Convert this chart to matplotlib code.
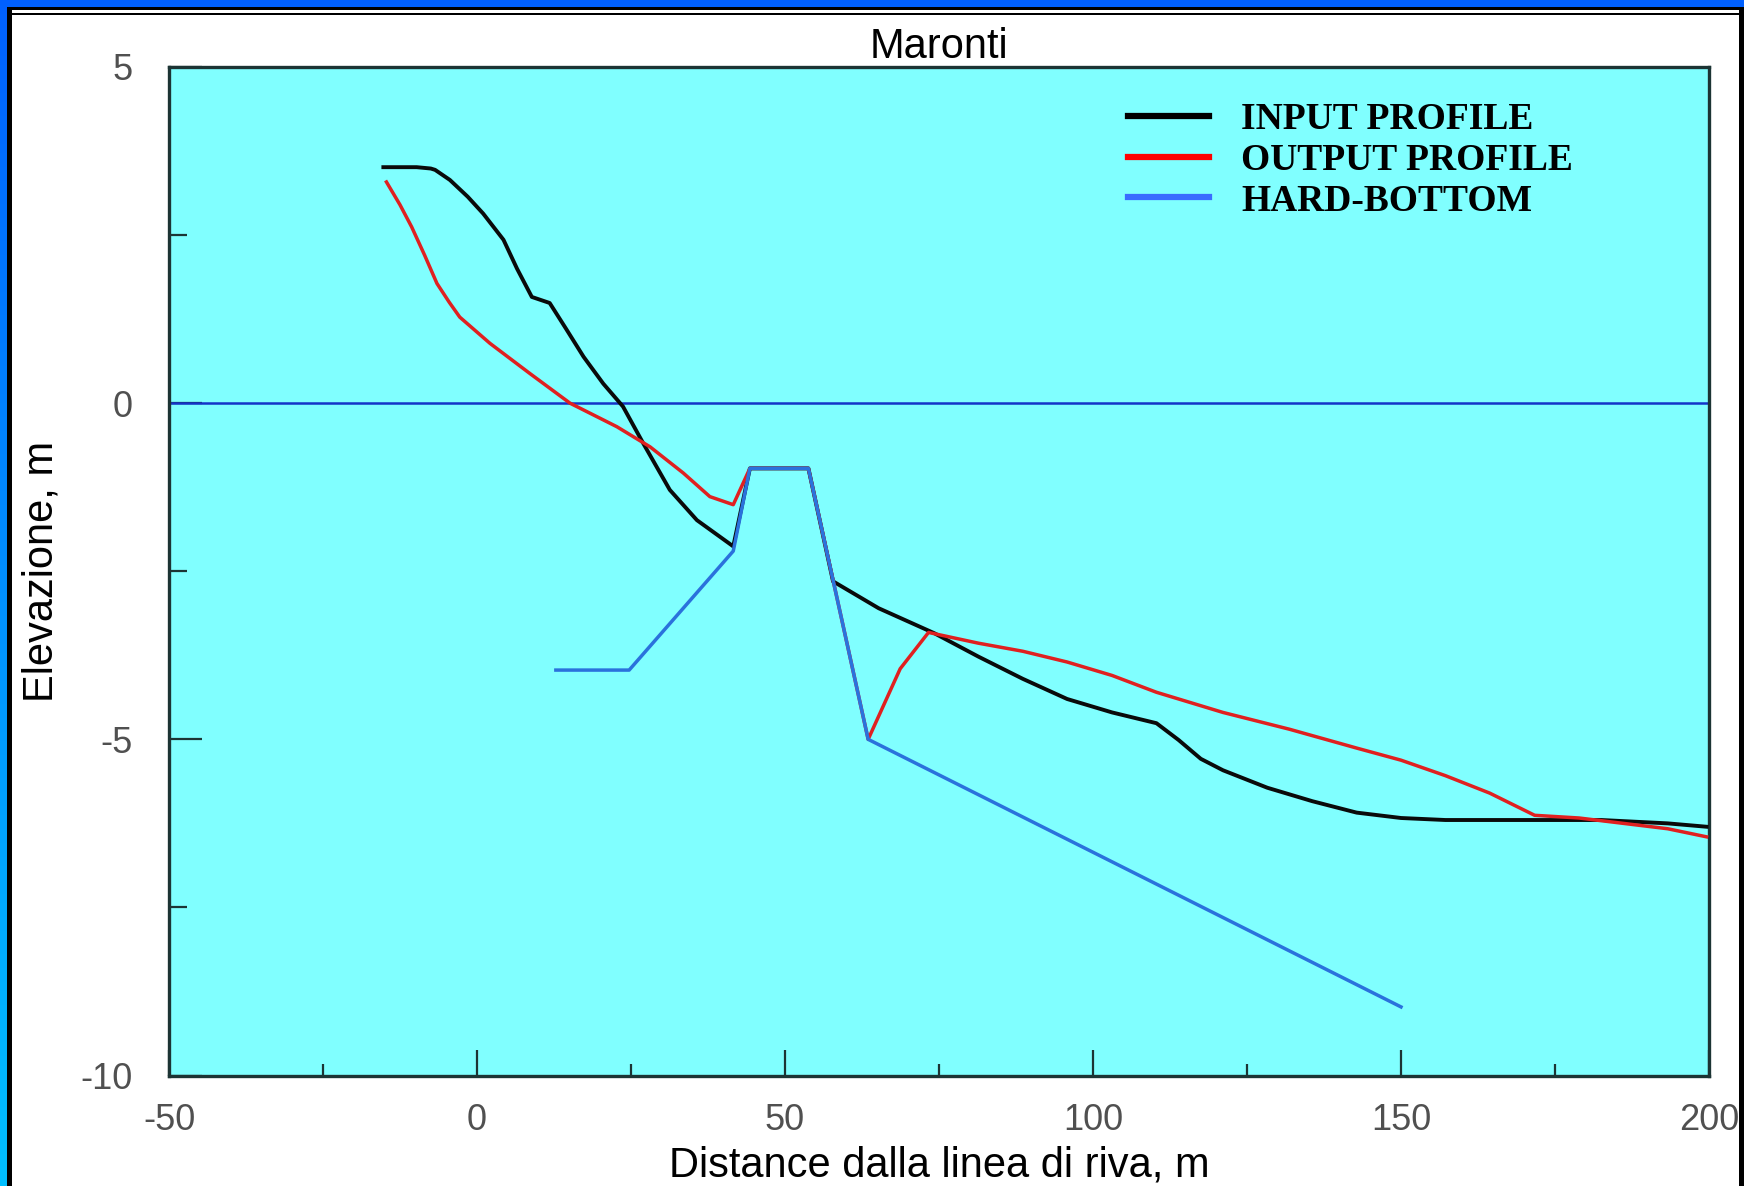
import numpy as np
import matplotlib
matplotlib.use("Agg")
import matplotlib.pyplot as plt
from matplotlib.patches import Rectangle
from matplotlib.lines import Line2D

# ---- data ----
inp_x = [-15.2, -9.8, -7.5, -6.8, -4.4, -1.5, 1.0, 4.3, 6.5, 8.9, 11.8, 14.5, 17.3, 20.5,
         23.7, 27.0, 31.3, 35.7, 41.6, 44.3, 53.8, 57.8, 65.2, 74.2, 81.4, 88.6, 95.8,
         103.1, 110.3, 113.9, 117.5, 121.1, 128.3, 135.6, 142.8, 150.0, 157.2, 171.7,
         182.5, 193.3, 199.6]
inp_y = [3.51, 3.51, 3.49, 3.47, 3.32, 3.07, 2.82, 2.43, 2.0, 1.58, 1.49, 1.1, 0.69, 0.29,
         -0.05, -0.6, -1.29, -1.74, -2.13, -0.97, -0.97, -2.65, -3.05, -3.42, -3.77, -4.1,
         -4.4, -4.6, -4.76, -5.01, -5.29, -5.46, -5.72, -5.92, -6.09, -6.17, -6.2, -6.2,
         -6.2, -6.25, -6.3]

out_x = [-14.7, -12.5, -10.6, -8.5, -6.5, -4.5, -2.8, 2.1, 8.6, 15.1, 22.7, 28.1, 33.5,
         37.8, 41.6, 44.3, 53.8, 63.5, 68.7, 73.3, 81.4, 88.6, 95.8, 103.1, 110.3, 121.1,
         131.9, 142.8, 150.0, 157.2, 164.4, 171.7, 178.9, 186.1, 193.3, 199.6]
out_y = [3.29, 2.95, 2.62, 2.2, 1.78, 1.5, 1.28, 0.89, 0.44, 0.0, -0.35, -0.65, -1.04,
         -1.39, -1.51, -0.97, -0.97, -5.0, -3.95, -3.41, -3.57, -3.69, -3.85, -4.05, -4.3,
         -4.6, -4.85, -5.13, -5.31, -5.54, -5.8, -6.13, -6.17, -6.25, -6.33, -6.45]

hard_x = [12.8, 24.7, 41.6, 44.3, 53.8, 63.5, 150.0]
hard_y = [-3.97, -3.97, -2.2, -0.97, -0.97, -5.0, -8.98]

labels = ["INPUT PROFILE", "OUTPUT PROFILE", "HARD-BOTTOM"]
title = "Maronti"
xlabel = "Distance dalla linea di riva, m"
ylabel = "Elevazione, m"
xticks = [-50, 0, 50, 100, 150, 200]
yticks = [-10, -5, 0, 5]

W, H = 1744, 1186
fig = plt.figure(figsize=(W / 100, H / 100), dpi=100)
fig.patch.set_facecolor("white")

# ---- frame / border ----
bg = fig.add_axes([0, 0, 1, 1], zorder=-5)
bg.set_axis_off()
grad = np.linspace(0, 1, 256).reshape(-1, 1)
top_c = np.array([0.0, 0.38, 1.0])
bot_c = np.array([0.0, 0.75, 1.0])
img = top_c[None, None, :] * (1 - grad[:, :, None]) + bot_c[None, None, :] * grad[:, :, None]
bg.imshow(img, extent=[0, 1, 0, 1], aspect="auto", origin="upper")
bg.set_xlim(0, 1)
bg.set_ylim(0, 1)
bg.add_patch(Rectangle((7 / W, 0), 1 - 7 / W, 1 - 7 / H, facecolor="black", edgecolor="none"))
bg.add_patch(Rectangle((12 / W, 0), (W - 17) / W, 1 - 10 / H, facecolor="white", edgecolor="none"))
bg.add_patch(Rectangle((12 / W, 1 - 14.5 / H), (W - 17) / W, 1.5 / H, facecolor="black", edgecolor="none"))

# ---- main axes ----
ax = fig.add_axes([169 / W, 1 - 1075.5 / H, 1540 / W, 1008.5 / H])
ax.set_facecolor("#80ffff")
ax.set_xlim(-50, 200)
ax.set_ylim(-10, 5)

ax.axhline(0, color="#1434c8", lw=1.8, zorder=2)
ax.plot(inp_x, inp_y, color="#0a0a0a", lw=2.8, zorder=3)
ax.plot(out_x, out_y, color="#e02020", lw=2.5, zorder=4)
ax.plot(hard_x, hard_y, color="#2a72dc", lw=2.5, zorder=5)

for s in ax.spines.values():
    s.set_color("#1c3434")
    s.set_linewidth(2.4)

tick_font = dict(family=["Liberation Sans", "DejaVu Sans"], size=26)
ax.set_xticks(xticks)
ax.set_xticks([-25, 25, 75, 125, 175], minor=True)
ax.set_yticks(yticks)
ax.set_yticks([-7.5, -2.5, 2.5], minor=True)
ax.set_xticklabels([str(v) for v in xticks], color="#505050", **tick_font)
ax.set_yticklabels([str(v) for v in yticks], color="#505050", **tick_font)
ax.tick_params(axis="x", which="major", direction="in", length=19, width=1.6, color="#1c3434", pad=20)
ax.tick_params(axis="x", which="minor", direction="in", length=9, width=1.6, color="#1c3434")
ax.tick_params(axis="y", which="major", direction="in", length=24, width=1.6, color="#1c3434", pad=26)
ax.tick_params(axis="y", which="minor", direction="in", length=13, width=1.6, color="#1c3434")

lab_font = dict(family=["Liberation Sans", "DejaVu Sans"], size=30, color="black")
ax.set_title(title, pad=6, **lab_font)
ax.set_xlabel(xlabel, labelpad=5, **lab_font)
ax.set_ylabel(ylabel, labelpad=14, **lab_font)

handles = [Line2D([], [], color="black", lw=4.5),
           Line2D([], [], color="#ff0000", lw=4.5),
           Line2D([], [], color="#3a6cff", lw=4.5)]
leg = ax.legend(handles, labels, loc="upper left", bbox_to_anchor=(0.623, 0.965),
                frameon=False, borderpad=0, borderaxespad=0, handlelength=2.15,
                handletextpad=0.85, labelspacing=0.15,
                prop=dict(family=["Liberation Serif", "DejaVu Serif"], weight="bold", size=27))

fig.savefig("out.png", dpi=100)
